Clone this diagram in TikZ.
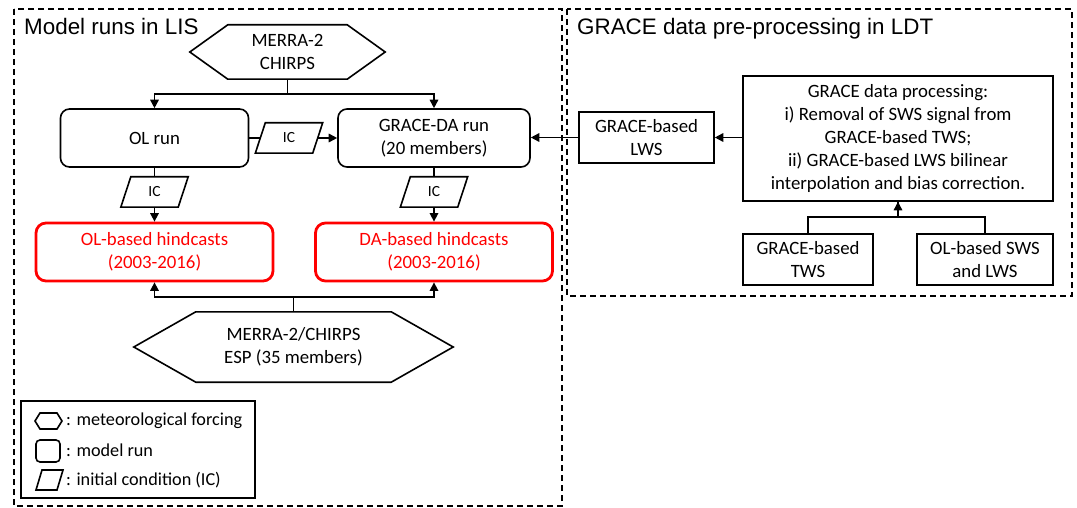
\documentclass[tikz,border=0pt]{standalone}
\usepackage{fontspec}
\setmainfont{Carlito}
\newfontfamily\arialf{Liberation Sans}
\usetikzlibrary{arrows.meta,calc}
\begin{document}
\begin{tikzpicture}[x=1pt,y=-1pt,
  every node/.style={font=\fontsize{18.8}{22.8}\selectfont, inner sep=0pt, align=center},
  conn/.style={line width=1.6pt},
  arr/.style={line width=1.6pt, -{Triangle[length=8.5pt,width=8.5pt]}},
  runbox/.style={draw, line width=1.6pt, rounded corners=9pt, minimum height=58pt},
  hcbox/.style={draw=red, text=red, line width=2.8pt, rounded corners=10pt, minimum height=58pt, minimum width=237pt},
  rectbox/.style={draw, line width=1.6pt},
  ghost/.style={inner sep=0pt},
  icnode/.style={font=\fontsize{15.5}{18}\selectfont, minimum width=57pt, minimum height=30pt},
  frame/.style={line width=1.4pt, dash pattern=on 6pt off 4pt},
  legtext/.style={font=\fontsize{18.2}{21}\selectfont, anchor=west},
  title/.style={font=\arialf\fontsize{22.4}{26}\selectfont, anchor=base west}
]
\useasboundingbox (0,0) rectangle (1077,508);

% frames
\draw[frame] (14,9) rectangle (562,506);
\draw[frame] (567,9) rectangle (1072,296);
\node[title] (t1) at (24,35) {Model runs in LIS};
\node[title] (t2) at (577,35) {GRACE data pre-processing in LDT};

% top forcing hexagon
\node[ghost, minimum width=119pt, minimum height=54pt] (hexA) at (287.5,52) {MERRA-2\\CHIRPS};
\draw[conn] (hexA.north west) -- (hexA.north east) -- ([xshift=38pt]hexA.east) -- (hexA.south east) -- (hexA.south west) -- ([xshift=-38pt]hexA.west) -- cycle;

% runs
\node[runbox, minimum width=188pt] (ol) at (154.5,138) {OL run};
\node[runbox, minimum width=192pt] (da) at (434,138) {GRACE-DA run\\(20 members)};

% IC parallelograms
\node[icnode] (ic1) at (289,138) {IC};
\node[icnode] (ic2) at (154.5,192) {IC};
\node[icnode] (ic3) at (434,192) {IC};
\foreach \p in {ic1,ic2,ic3}{
  \draw[conn] ([xshift=5pt]\p.north west) -- ([xshift=5pt]\p.north east) -- ([xshift=-5pt]\p.south east) -- ([xshift=-5pt]\p.south west) -- cycle;
}

% hindcasts
\node[hcbox] (olhc) at (154.5,252) {OL-based hindcasts\\(2003-2016)};
\node[hcbox] (dahc) at (434,252) {DA-based hindcasts\\(2003-2016)};

% bottom forcing hexagon
\node[ghost, minimum width=195pt, minimum height=70pt] (hexB) at (293.5,347) {MERRA-2/CHIRPS\\ESP (35 members)};
\draw[conn] (hexB.north west) -- (hexB.north east) -- ([xshift=62pt]hexB.east) -- (hexB.south east) -- (hexB.south west) -- ([xshift=-62pt]hexB.west) -- cycle;

% connectors left
\draw[arr] (hexA.south) -- ++(0,15) -| (ol.north);
\draw[arr] (hexA.south) -- ++(0,15) -| (da.north);
\draw[conn] (ol.east) -- (ic1.west);
\draw[arr] (ic1.east) -- (da.west);
\draw[conn] (ol.south) -- (ic2.north);
\draw[arr] (ic2.south) -- (olhc.north);
\draw[conn] (da.south) -- (ic3.north);
\draw[arr] (ic3.south) -- (dahc.north);
\draw[arr] (hexB.north) -- ++(0,-15) -| (olhc.south);
\draw[arr] (hexB.north) -- ++(0,-15) -| (dahc.south);

% right part
\node[rectbox, minimum width=135pt, minimum height=51pt] (lws) at (646.5,137.5) {GRACE-based\\LWS};
\node[rectbox, minimum width=310pt, minimum height=125pt] (proc) at (898,138.5) {GRACE data processing:\\i) Removal of SWS signal from\\GRACE-based TWS;\\ii) GRACE-based LWS bilinear\\interpolation and bias correction.};
\node[rectbox, minimum width=130pt, minimum height=51pt] (tws) at (808,259.5) {GRACE-based\\TWS};
\node[rectbox, minimum width=136pt, minimum height=51pt] (sws) at (985,259.5) {OL-based SWS\\and LWS};

\draw[arr] (lws.west) -- (lws.west -| da.east);
\draw[arr] (proc.west |- lws.east) -- (lws.east);
\draw[arr] (tws.north) -- ++(0,-16) -| (proc.south);
\draw[conn] (sws.north) -- ++(0,-16) -| (proc.south);

% legend
\node[rectbox, minimum width=234pt, minimum height=97pt] (leg) at (138,449.5) {};
\draw[conn] (40,413) -- (57,413) -- (62,421) -- (57,429) -- (40,429) -- (35,421) -- cycle;
\draw[conn, rounded corners=4pt] (36,440) rectangle (60,462);
\draw[conn] (42,470) -- (63,470) -- (57,490) -- (36,490) -- cycle;
\node[legtext] (l1) at (66,421) {: meteorological forcing};
\node[legtext] (l2) at (66,450) {: model run};
\node[legtext] (l3) at (66,480) {: initial condition (IC)};
\end{tikzpicture}
\end{document}
